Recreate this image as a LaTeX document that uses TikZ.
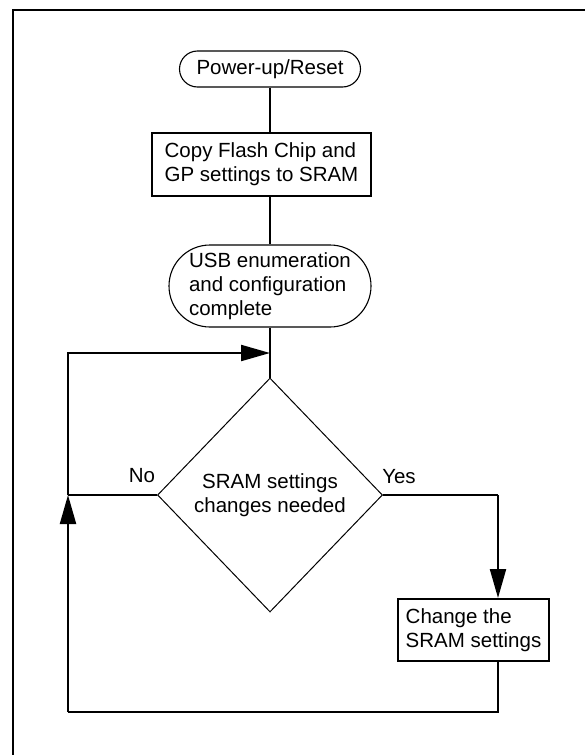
\documentclass[tikz,border=0pt]{standalone}
\usepackage{fontspec}
\setmainfont{Liberation Sans}
\usetikzlibrary{shapes.geometric,shapes.misc,arrows.meta}
\begin{document}
\begin{tikzpicture}[x=1pt,y=-1pt,
  every node/.style={font=\fontsize{20.5}{24}\selectfont},
  terminal/.style={draw,line width=1.1pt,rounded rectangle,inner sep=0pt,align=left},
  procbox/.style={draw,line width=2pt,rectangle,inner sep=0pt,align=left},
  decision/.style={draw,line width=1pt,diamond,inner sep=0pt,align=center},
  conn/.style={line width=2.2pt},
  arr/.style={conn,-{Triangle[length=29pt,width=16pt]}},
  frame/.style={line width=2.6pt,line join=miter},
  lbl/.style={inner sep=0pt}]
\useasboundingbox (0,0) rectangle (585,755);
\draw[frame] (585,10) -- (13,10) -- (13,755);

\node[terminal,minimum width=181pt,minimum height=36pt] (pu) at (270,69) {Power-up/Reset};
\node[procbox,minimum width=219pt,minimum height=63pt] (copy) at (261.5,164) {Copy Flash Chip and\\GP settings to SRAM};
\node[terminal,minimum width=202pt,minimum height=82pt] (usb) at (270,286) {USB enumeration\\and configuration\\complete};
\node[decision,minimum width=225pt,minimum height=234pt] (dec) at (270,495) {SRAM settings\\changes needed};
\node[procbox,minimum width=151pt,minimum height=62pt] (chg) at (473.5,630) {Change the\\SRAM settings};

\node[lbl] (no) at (142,476) {No};
\node[lbl] (yes) at (399,477) {Yes};

\coordinate (jl) at (68,495);
\coordinate (jr) at (498,495);
\coordinate (ja) at (270,353);
\coordinate (bl) at (68,712);
\coordinate (br) at (498,712);

\draw[conn] (pu.south) -- (pu.south |- copy.north);
\draw[conn] (pu.south |- copy.south) -- (usb.north);
\draw[conn] (usb.south) -- (dec.north);
\draw[conn] (dec.west) -- (jl);
\draw[arr] (jl) |- (ja);
\draw[conn] (dec.east) -- (jr);
\draw[arr] (jr) -- (jr |- chg.north);
\draw[conn] (jr |- chg.south) -- (br) -- (bl);
\draw[arr] (bl) -- (jl);
\end{tikzpicture}
\end{document}
